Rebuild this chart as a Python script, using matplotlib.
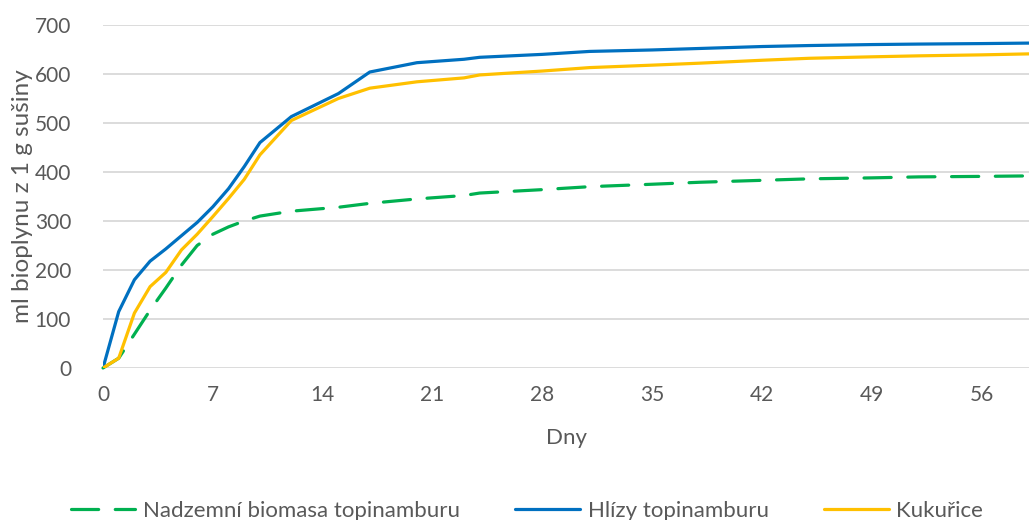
import matplotlib
matplotlib.use('Agg')
import matplotlib.pyplot as plt

# cumulative biogas yield, ml per 1 g of dry matter
dny = [0, 1, 2, 3, 4, 5, 6, 7, 8, 9, 10, 12, 15, 17, 20, 23, 24, 28, 31,
       35, 38, 42, 45, 49, 52, 56, 59]
nadzemni = [0, 20, 69, 118, 163, 210, 250, 273, 288, 300, 310, 320, 328, 336,
            345, 352, 357, 364, 370, 375, 379, 383, 386, 388, 390, 391, 392]
hlizy = [0, 115, 180, 218, 243, 270, 297, 329, 366, 411, 460, 513, 560, 604,
         623, 630, 634, 640, 646, 649, 652, 656, 658, 660, 661, 662, 663]
kukurice = [0, 20, 112, 166, 195, 241, 273, 309, 346, 385, 435, 505, 550, 571,
            584, 592, 598, 606, 613, 618, 622, 628, 632, 635, 637, 639, 641]

nazvy = ['Nadzemní biomasa topinamburu', 'Hlízy topinamburu', 'Kukuřice']
barvy = ['#00B050', '#0070C0', '#FFC000']
xticks = [0, 7, 14, 21, 28, 35, 42, 49, 56]
yticks = [0, 100, 200, 300, 400, 500, 600, 700]

plt.rcParams['font.family'] = ['Lato', 'DejaVu Sans']
text_c = '#595959'
grid_c = '#D9D9D9'

fig = plt.figure(figsize=(10.29, 5.2), dpi=100)
ax = fig.add_axes([0.1001, 0.2923, 0.8999, 0.6597])

lw = 2.3
ax.plot(dny, nadzemni, color=barvy[0], lw=lw, dashes=(8.5, 5.2),
        dash_capstyle='round', label=nazvy[0], clip_on=False, zorder=3)
ax.plot(dny, hlizy, color=barvy[1], lw=lw, label=nazvy[1],
        solid_capstyle='round', zorder=4)
ax.plot(dny, kukurice, color=barvy[2], lw=lw, label=nazvy[2],
        solid_capstyle='round', zorder=5)

ax.set_xlim(0, 59)
ax.set_ylim(0, 700)
ax.set_xticks(xticks)
ax.set_yticks(yticks)
ax.tick_params(length=0, labelsize=15, labelcolor=text_c)
ax.xaxis.set_tick_params(pad=12)
ax.yaxis.set_tick_params(pad=23)

ax.grid(axis='y', color=grid_c, lw=1.3)
ax.set_axisbelow(True)
for s in ax.spines.values():
    s.set_visible(False)

ax.set_xlabel('Dny', fontsize=16, color=text_c, labelpad=17)
ax.set_ylabel('ml bioplynu z 1 g sušiny', fontsize=17.5, color=text_c, labelpad=1)

fig.legend(loc='lower center', bbox_to_anchor=(0.512, -0.04), ncol=3,
           frameon=False, fontsize=16, labelcolor=text_c, handlelength=2.9,
           handletextpad=0.35, columnspacing=2.5)

fig.savefig('out.png', dpi=100)
